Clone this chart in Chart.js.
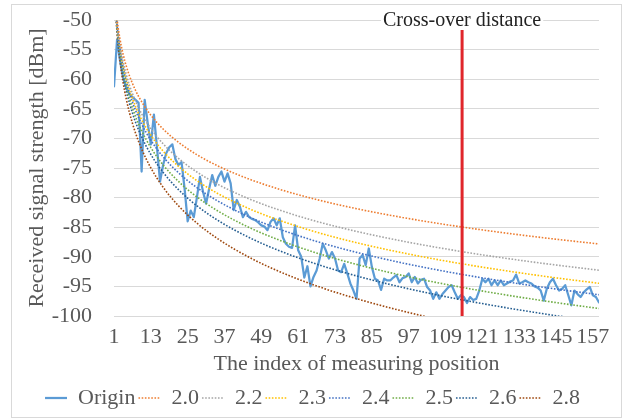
<!DOCTYPE html>
<html>
<head>
<meta charset="utf-8">
<script src="https://cdn.jsdelivr.net/npm/chart.js@4.4.1/dist/chart.umd.min.js"></script>
<style>
  html, body { margin: 0; padding: 0; background: #ffffff; }
  #wrap { position: relative; width: 625px; height: 419px; }
  #wrap canvas { position: absolute; left: 0; top: 0; }
  #frame { position: absolute; left: 11px; top: 4px; width: 609px; height: 412px; border: 1px solid #d9d9d9; pointer-events: none; }
</style>
</head>
<body>
<div id="wrap"><canvas id="c" width="625" height="419"></canvas><div id="frame"></div></div>
<script>
// ---- data ----
const xTickLabels = [1, 13, 25, 37, 49, 61, 73, 85, 97, 109, 121, 133, 145, 157];
const xMin = 1;
const xMax = 159;
const yMin = -100;
const yMax = -50;
const yStep = 5;

// measured signal ("Origin"), one value per measuring position 1..159
const origin = [
  -61.2, -53.3, -57.0, -59.8, -61.5, -62.5, -63.0, -63.5, -64.0, -75.6,
  -63.5, -67.5, -71.0, -66.0, -71.5, -77.3, -74.5, -72.5, -71.5, -71.0,
  -73.5, -74.5, -74.0, -78.5, -84.0, -82.2, -83.3, -80.0, -76.5, -79.0,
  -81.0, -78.5, -76.2, -78.0, -76.5, -75.6, -77.3, -75.9, -77.6, -82.1,
  -80.4, -81.5, -83.3, -82.4, -83.3, -83.6, -83.8, -84.2, -84.7, -84.9,
  -85.5, -84.1, -83.5, -84.7, -83.5, -86.7, -87.8, -88.3, -88.5, -84.7,
  -88.9, -90.0, -93.5, -91.6, -95.0, -93.4, -92.3, -90.3, -87.8, -88.9,
  -90.3, -89.2, -90.3, -92.3, -92.6, -91.2, -92.8, -94.5, -95.7, -97.1,
  -90.3, -89.7, -91.4, -88.6, -91.7, -93.7, -94.0, -95.6, -93.7, -94.0,
  -94.0, -93.5, -93.1, -94.3, -93.6, -93.4, -92.8, -94.3, -93.4, -94.5,
  -93.9, -93.7, -95.1, -95.7, -97.1, -96.0, -97.1, -96.3, -95.7, -95.1,
  -94.8, -96.0, -97.1, -96.5, -96.8, -97.8, -96.8, -97.3, -97.1, -95.7,
  -93.7, -94.3, -93.7, -94.8, -94.0, -94.8, -94.0, -94.8, -94.5, -94.2,
  -94.0, -93.0, -94.5, -94.3, -94.0, -94.3, -94.5, -95.0, -95.2, -95.7,
  -97.4, -95.4, -94.3, -93.7, -94.8, -95.7, -95.4, -94.8, -96.5, -98.2,
  -95.7, -96.3, -96.8, -96.0, -95.5, -95.1, -96.5, -96.8, -97.7
];

// positions at which the dotted model curves were read
const modelIndex = [1, 2, 3, 4, 5, 6, 8, 10, 13, 17, 22, 28, 35, 45, 55, 67, 80, 95, 110, 125, 142, 159];
const n20 = [-43.80, -49.82, -53.35, -55.85, -57.78, -59.37, -61.87, -63.80, -66.08, -68.41, -70.65, -72.75, -74.69, -76.87, -78.61, -80.33, -81.87, -83.36, -84.63, -85.74, -86.85, -87.83];
const n22 = [-43.84, -50.47, -54.34, -57.09, -59.22, -60.96, -63.71, -65.84, -68.35, -70.91, -73.38, -75.68, -77.81, -80.21, -82.13, -84.02, -85.71, -87.35, -88.75, -89.98, -91.19, -92.27];
const n23 = [-43.85, -50.77, -54.82, -57.69, -59.92, -61.74, -64.62, -66.85, -69.47, -72.15, -74.72, -77.13, -79.36, -81.87, -83.87, -85.84, -87.62, -89.33, -90.80, -92.07, -93.35, -94.48];
const n24 = [-43.58, -50.80, -55.03, -58.03, -60.35, -62.25, -65.25, -67.58, -70.31, -73.11, -75.80, -78.31, -80.63, -83.25, -85.35, -87.40, -89.25, -91.04, -92.57, -93.90, -95.23, -96.41];
const n25 = [-43.70, -51.23, -55.63, -58.76, -61.18, -63.16, -66.28, -68.70, -71.55, -74.47, -77.27, -79.88, -82.31, -85.04, -87.21, -89.36, -91.28, -93.15, -94.74, -96.13, -97.51, -98.74];
const n26 = [-43.75, -51.58, -56.16, -59.40, -61.92, -63.98, -67.23, -69.75, -72.71, -75.74, -78.65, -81.38, -83.90, -86.73, -89.00, -91.23, -93.23, -95.17, -96.83, -98.27, -99.71, -100.99];
const n28 = [-43.79, -52.22, -57.15, -60.65, -63.36, -65.58, -69.07, -71.79, -74.98, -78.24, -81.38, -84.31, -87.02, -90.08, -92.52, -94.92, -97.07, -99.16, -100.95, -102.50, -104.05, -105.43];

const seriesLabels = ['Origin', '2.0', '2.2', '2.3', '2.4', '2.5', '2.6', '2.8'];
const seriesColors = ['#5B9BD5', '#ED7D31', '#A5A5A5', '#FFC000', '#4472C4', '#70AD47', '#255E91', '#9E480E'];
const modelSeries = [n20, n22, n23, n24, n25, n26, n28];

const crossOverIndex = 114.4;
const crossOverRange = [-100, -51.6];
const crossOverText = 'Cross-over distance';
const xTitle = 'The index of measuring position';
const yTitle = 'Received signal strength [dBm]';

// ---- chart ----
const serif = '"Liberation Serif", "Times New Roman", serif';
const textColor = '#595959';

const datasets = [];
datasets.push({
  label: seriesLabels[0],
  data: origin.map((v, i) => ({ x: i + 1, y: v })),
  borderColor: seriesColors[0],
  backgroundColor: seriesColors[0],
  borderWidth: 2.25,
  borderJoinStyle: 'round',
  borderCapStyle: 'round',
  pointRadius: 0,
  pointStyle: 'line',
  tension: 0,
  order: 1
});
modelSeries.forEach((arr, k) => {
  datasets.push({
    label: seriesLabels[k + 1],
    data: arr.map((v, i) => ({ x: modelIndex[i], y: v })),
    borderColor: seriesColors[k + 1],
    backgroundColor: seriesColors[k + 1],
    borderWidth: 1.6,
    borderDash: [1.6, 1.6],
    pointRadius: 0,
    pointStyle: 'line',
    cubicInterpolationMode: 'monotone',
    order: 0
  });
});
datasets.push({
  data: crossOverRange.map(v => ({ x: crossOverIndex, y: v })),
  borderColor: '#E0262B',
  backgroundColor: '#E0262B',
  borderWidth: 3,
  pointRadius: 0,
  order: -1
});

const crossLabel = {
  id: 'crossLabel',
  afterDatasetsDraw(chart) {
    const { ctx, scales: { x, y } } = chart;
    const px = x.getPixelForValue(crossOverIndex);
    const py = y.getPixelForValue(yMax) + 1;
    ctx.save();
    ctx.font = '20px ' + serif;
    const w = ctx.measureText(crossOverText).width;
    ctx.fillStyle = '#ffffff';
    ctx.fillRect(px - w / 2 - 2, py - 10, w + 4, 19);
    ctx.fillStyle = '#222222';
    ctx.textAlign = 'center';
    ctx.textBaseline = 'middle';
    ctx.fillText(crossOverText, px, py);
    ctx.restore();
  }
};

// let the legend row be centred on the whole canvas width
const legendSpan = {
  id: 'legendSpan',
  afterLayout(chart) {
    if (chart.legend) {
      chart.legend.left = 0;
      chart.legend.right = chart.width;
      chart.legend.width = chart.width;
    }
  }
};

new Chart(document.getElementById('c'), {
  type: 'line',
  data: { datasets },
  options: {
    responsive: false,
    animation: false,
    devicePixelRatio: 1,
    layout: { padding: { left: 0, right: 26, top: 20, bottom: 0 } },
    plugins: {
      legend: {
        position: 'bottom',
        labels: {
          usePointStyle: true,
          pointStyleWidth: 22,
          boxHeight: 22,
          padding: 3,
          color: textColor,
          font: { family: serif, size: 22 },
          generateLabels: (chart) => chart.data.datasets
            .map((ds, i) => ({
              text: ds.label,
              fillStyle: ds.borderColor,
              strokeStyle: ds.borderColor,
              lineWidth: ds.borderWidth,
              lineDash: ds.borderDash || [],
              lineCap: 'butt',
              pointStyle: 'line',
              fontColor: textColor,
              hidden: false,
              datasetIndex: i
            }))
            .filter(it => it.text)
        }
      },
      tooltip: { enabled: false }
    },
    scales: {
      x: {
        type: 'linear',
        min: xMin,
        max: xMax,
        afterBuildTicks: (s) => { s.ticks = xTickLabels.map(v => ({ value: v })); },
        afterFit: (s) => { s.height = 68; },
        ticks: {
          autoSkip: false,
          maxRotation: 0,
          minRotation: 0,
          padding: 8,
          color: textColor,
          font: { family: serif, size: 22 },
          callback: (v) => String(v)
        },
        grid: { display: false, drawTicks: false },
        border: { display: false },
        title: {
          display: true,
          text: xTitle,
          color: textColor,
          font: { family: serif, size: 22 },
          padding: { top: 0, bottom: 7 }
        }
      },
      y: {
        min: yMin,
        max: yMax,
        afterFit: (s) => { s.width = 114; },
        ticks: {
          stepSize: yStep,
          autoSkip: false,
          padding: 3,
          color: textColor,
          font: { family: serif, size: 22 }
        },
        grid: { color: '#d9d9d9', lineWidth: 1, drawTicks: true, tickLength: 19, tickColor: 'rgba(0,0,0,0)' },
        border: { display: false },
        title: {
          display: true,
          text: yTitle,
          color: textColor,
          font: { family: serif, size: 22 },
          padding: { top: 24, bottom: 0 }
        }
      }
    }
  },
  plugins: [crossLabel, legendSpan]
});
</script>
</body>
</html>
